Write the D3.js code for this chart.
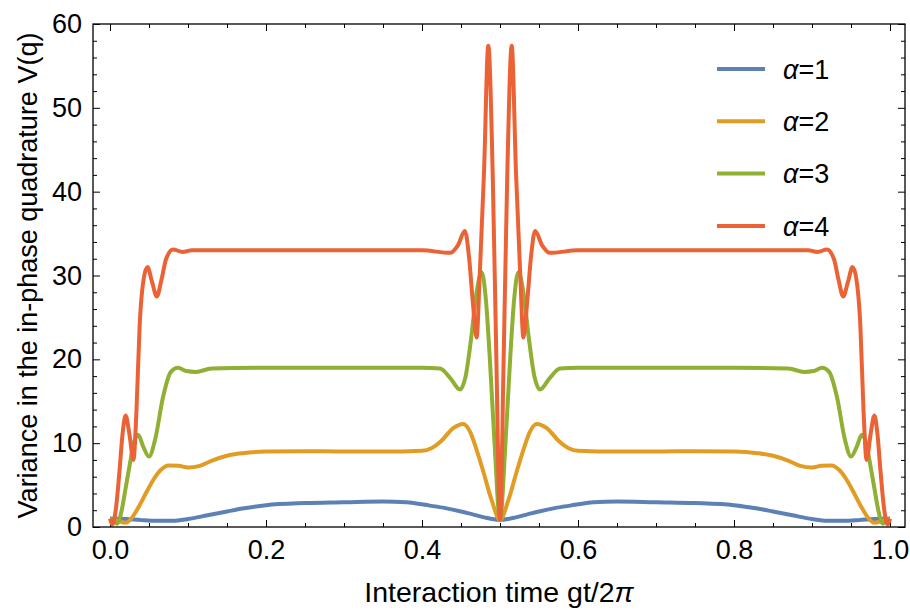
<!DOCTYPE html>
<html>
<head>
<meta charset="utf-8">
<script src="https://cdn.jsdelivr.net/npm/d3@7"></script>
<style>
  body { margin: 0; background: #fff; }
  text { font-family: 'Liberation Sans', Arial, sans-serif; }
</style>
</head>
<body>
<svg width="910" height="610"></svg>
<script>
// values, one t/v pair of arrays per curve
const tA1 = [0, 0.02, 0.04, 0.06, 0.08, 0.10, 0.125, 0.15, 0.17, 0.20, 0.25, 0.30, 0.35, 0.38, 0.41, 0.43, 0.45, 0.465, 0.48, 0.49,
  0.50, 0.51, 0.52, 0.535, 0.55, 0.57, 0.59, 0.62, 0.65, 0.70, 0.75, 0.80, 0.83, 0.85, 0.875, 0.90, 0.92, 0.94, 0.96, 0.98, 1.0]
const vA1 = [1.0, 0.95, 0.82, 0.74, 0.74, 0.95, 1.4, 1.85, 2.2, 2.6, 2.85, 2.95, 3.05, 2.95, 2.55, 2.25, 1.85, 1.5, 1.15, 0.95,
  0.85, 0.95, 1.15, 1.5, 1.85, 2.25, 2.55, 2.95, 3.05, 2.95, 2.85, 2.6, 2.2, 1.85, 1.4, 0.95, 0.74, 0.74, 0.82, 0.95, 1.0]

const tA2 = [0, 0.010, 0.020, 0.028, 0.038, 0.047, 0.056, 0.065, 0.075, 0.088, 0.100, 0.115, 0.13, 0.15, 0.17, 0.20, 0.25, 0.30, 0.35, 0.40,
  0.412, 0.425, 0.440, 0.453, 0.462, 0.470, 0.478, 0.4893, 0.5,
  0.5107, 0.522, 0.530, 0.538, 0.547, 0.560, 0.575, 0.588, 0.600, 0.65, 0.70, 0.75, 0.80, 0.83, 0.85, 0.87, 0.885, 0.900, 0.912,
  0.925, 0.935, 0.944, 0.953, 0.962, 0.972, 0.980, 0.990, 1.0]
const vA2 = [1.0, 0.75, 0.5, 1.1, 2.6, 4.2, 5.7, 6.8, 7.35, 7.3, 7.1, 7.3, 7.9, 8.5, 8.8, 9.0, 9.05, 9.0, 9.0, 9.1,
  9.4, 10.3, 11.8, 12.3, 11.3, 9.2, 6.8, 3.2, 0.85,
  3.2, 6.8, 9.2, 11.3, 12.3, 11.8, 10.3, 9.4, 9.1, 9.0, 9.0, 9.05, 9.0, 8.8, 8.5, 7.9, 7.3, 7.1, 7.3,
  7.35, 6.8, 5.7, 4.2, 2.6, 1.1, 0.5, 0.75, 1.0]

const tA3 = [0, 0.004, 0.009, 0.015, 0.020, 0.026, 0.031, 0.036, 0.043, 0.050, 0.058, 0.068, 0.078, 0.087, 0.098, 0.110, 0.13, 0.20, 0.30, 0.40,
  0.423, 0.436, 0.4487, 0.456, 0.463, 0.470, 0.4765, 0.482, 0.487, 0.493, 0.5,
  0.507, 0.513, 0.518, 0.5235, 0.530, 0.537, 0.544, 0.5513, 0.564, 0.577, 0.60, 0.70, 0.80, 0.87, 0.89, 0.902, 0.913, 0.922, 0.932,
  0.942, 0.950, 0.957, 0.964, 0.969, 0.974, 0.980, 0.985, 0.991, 0.996, 1.0]
const vA3 = [1.0, 0.7, 0.4, 2.0, 4.6, 7.8, 10.2, 11.0, 9.5, 8.4, 10.5, 15.5, 18.5, 19.0, 18.6, 18.5, 18.9, 19.0, 19.0, 19.0,
  18.9, 17.8, 16.4, 18.0, 22.5, 28.0, 30.4, 27.0, 20.0, 10.0, 0.85,
  10.0, 20.0, 27.0, 30.4, 28.0, 22.5, 18.0, 16.4, 17.8, 18.9, 19.0, 19.0, 19.0, 18.9, 18.5, 18.6, 19.0, 18.5, 15.5,
  10.5, 8.4, 9.5, 11.0, 10.2, 7.8, 4.6, 2.0, 0.4, 0.7, 1.0]

const tA4 = [0, 0.003, 0.008, 0.012, 0.016, 0.020, 0.025, 0.030, 0.034, 0.038, 0.043, 0.048, 0.054, 0.060, 0.066, 0.072, 0.081, 0.093, 0.105, 0.13,
  0.20, 0.30, 0.40, 0.436, 0.446, 0.455, 0.4605, 0.465, 0.470, 0.474, 0.4795, 0.485, 0.4906, 0.4950, 0.5,
  0.5050, 0.5094, 0.515, 0.5205, 0.526, 0.530, 0.535, 0.5395, 0.545, 0.554, 0.564, 0.60, 0.70, 0.80, 0.87, 0.895, 0.907,
  0.919, 0.928, 0.934, 0.940, 0.946, 0.952, 0.957, 0.962, 0.966, 0.970, 0.975, 0.980, 0.984, 0.988, 0.992, 0.997, 1.0]
const vA4 = [1.0, 0.3, 2.5, 6.5, 11.0, 13.3, 11.0, 8.0, 14.0, 24.0, 29.5, 31.0, 29.2, 27.5, 29.5, 32.0, 33.1, 32.8, 33.0, 33.0,
  33.0, 33.0, 33.0, 32.7, 33.6, 35.3, 32.0, 27.0, 22.6, 30.0, 42.3, 57.4, 42.3, 21.7, 0.85,
  21.7, 42.3, 57.4, 42.3, 30.0, 22.6, 27.0, 32.0, 35.3, 33.6, 32.7, 33.0, 33.0, 33.0, 33.0, 33.0, 32.8,
  33.1, 32.0, 29.5, 27.5, 29.2, 31.0, 29.5, 24.0, 14.0, 8.0, 11.0, 13.3, 11.0, 6.5, 2.5, 0.3, 1.0]

const labels = ['1', '2', '3', '4']
const colors = ['#5e81b5', '#e19c24', '#8fb032', '#eb6235']
const xTicks = [0, 0.2, 0.4, 0.6, 0.8, 1.0]
const yTicks = [0, 10, 20, 30, 40, 50, 60]

const series = [[tA1, vA1], [tA2, vA2], [tA3, vA3], [tA4, vA4]]

const frame = {left: 93, right: 905, top: 24, bottom: 527}
const svg = d3.select('svg')

const x = d3.scaleLinear([0, 1], [110, 890])
const y = d3.scaleLinear([0, 60], [frame.bottom, frame.top])

const font = 27

// minor ticks first, major on top
const xMinor = d3.range(0, 1.0001, 0.05).filter(d => Math.abs(d * 5 - Math.round(d * 5)) > 1e-6)
const yMinor = d3.range(0, 60.001, 2).filter(d => d % 10 != 0)

function addAxis(axis, transform, labelsOn){
  const g = svg.append('g').attr('transform', transform).call(axis)
  g.select('.domain').remove()
  g.selectAll('.tick line').attr('stroke', '#000')
  if (!labelsOn) g.selectAll('.tick text').remove()
  else g.selectAll('.tick text').attr('fill', '#000').style('font-size', font + 'px')
  return g
}

addAxis(d3.axisBottom(x).tickValues(xMinor).tickSize(-4).tickFormat(''), `translate(0,${frame.bottom})`, false)
addAxis(d3.axisTop(x).tickValues(xMinor).tickSize(-4).tickFormat(''), `translate(0,${frame.top})`, false)
addAxis(d3.axisLeft(y).tickValues(yMinor).tickSize(-4).tickFormat(''), `translate(${frame.left},0)`, false)
addAxis(d3.axisRight(y).tickValues(yMinor).tickSize(-4).tickFormat(''), `translate(${frame.right},0)`, false)

addAxis(d3.axisBottom(x).tickValues(xTicks).tickSize(-7).tickPadding(13).tickFormat(d3.format('.1f')), `translate(0,${frame.bottom})`, true)
addAxis(d3.axisTop(x).tickValues(xTicks).tickSize(-7), `translate(0,${frame.top})`, false)
addAxis(d3.axisLeft(y).tickValues(yTicks).tickSize(-7).tickPadding(11), `translate(${frame.left},0)`, true)
addAxis(d3.axisRight(y).tickValues(yTicks).tickSize(-7), `translate(${frame.right},0)`, false)

// the curves
const line = d3.line()
  .x(d => x(d[0]))
  .y(d => y(d[1]))
  .curve(d3.curveMonotoneX)

svg.append('defs').append('clipPath').attr('id', 'plot')
  .append('rect')
    .attr('x', frame.left).attr('y', frame.top)
    .attr('width', frame.right - frame.left).attr('height', frame.bottom - frame.top)

series.forEach((s, i) => {
  const pts = s[0].map((t, j) => [t, s[1][j]])
  svg.append('path')
    .datum(pts)
    .attr('clip-path', 'url(#plot)')
    .attr('d', line)
    .attr('fill', 'none')
    .attr('stroke', colors[i])
    .attr('stroke-width', 4)
    .attr('stroke-linejoin', 'round')
})

// frame
svg.append('rect')
  .attr('x', frame.left).attr('y', frame.top)
  .attr('width', frame.right - frame.left).attr('height', frame.bottom - frame.top)
  .attr('fill', 'none')
  .attr('stroke', '#000')
  .attr('stroke-width', 1.3)

// legend
const legend = svg.append('g')
labels.forEach((l, i) => {
  const ly = 69 + i * 52.3
  legend.append('line')
    .attr('x1', 717).attr('x2', 765)
    .attr('y1', ly).attr('y2', ly)
    .attr('stroke', colors[i])
    .attr('stroke-width', 4)
  const t = legend.append('text')
    .attr('x', 783).attr('y', ly)
    .attr('dy', '0.36em')
    .style('font-size', font + 'px')
  t.append('tspan').style('font-style', 'italic').text('α')
  t.append('tspan').text('=' + l)
})

// axis titles
svg.append('text')
  .attr('x', (frame.left + frame.right) / 2)
  .attr('y', 602)
  .attr('text-anchor', 'middle')
  .style('font-size', '28.5px')
  .html('Interaction time gt/2<tspan font-style="italic">π</tspan>')

svg.append('text')
  .attr('transform', `translate(37,${(frame.top + frame.bottom) / 2}) rotate(-90)`)
  .attr('text-anchor', 'middle')
  .style('font-size', font + 'px')
  .text('Variance in the in-phase quadrature V(q)')
</script>
</body>
</html>
